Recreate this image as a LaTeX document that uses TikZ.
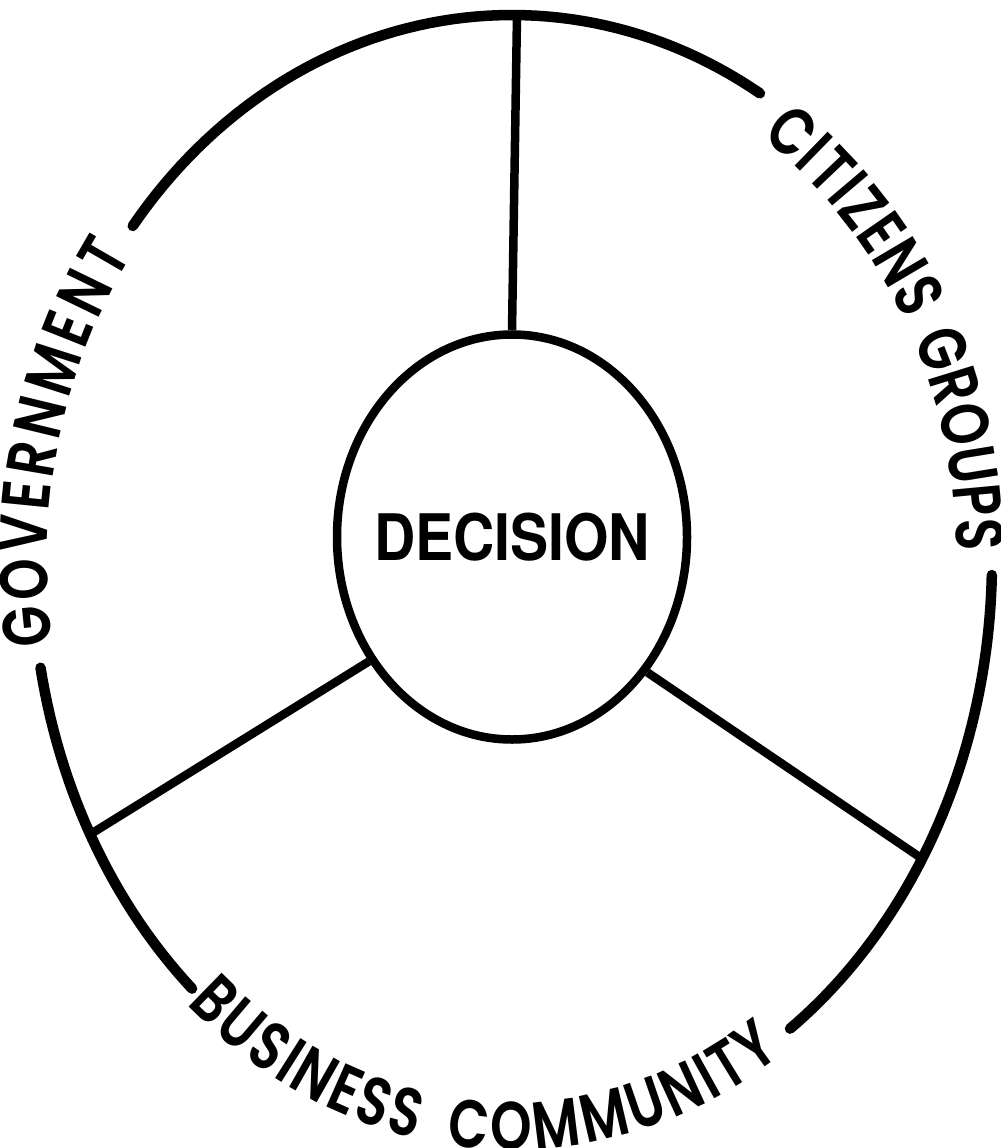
\documentclass[tikz,border=0pt]{standalone}
\usepackage{fontspec}
\newfontfamily\ringfont{Poppins SemiBold}[FakeStretch=0.78]
\newfontfamily\decfont{TeX Gyre Heros}[FakeStretch=0.89]
\usetikzlibrary{shapes.geometric,decorations.text}

\tikzset{
  ring/.style={line width=2.1mm, line cap=round},
  spoke/.style={line width=1.7mm},
  ringlabel/.style n args={2}{decorate, decoration={text along path, text align=fit to path, raise=#2,
    text={|\ringfont\fontsize{38.5}{38.5}\selectfont|#1}}},
  declare function={ringx(\t)=512+480*cos(\t); ringy(\t)=560-((sin(\t)>0)?545:575)*sin(\t);}
}

\begin{document}
\begin{tikzpicture}[x=0.2mm, y=-0.2mm]
\useasboundingbox (0,0) rectangle (1000,1148);

% centre
\node[draw, ellipse, line width=1.7mm, minimum width=70mm, minimum height=81mm, inner sep=0pt,
  label={[font=\decfont\bfseries\fontsize{36.5}{36.5}\selectfont]center:DECISION}] (dec) at (512,537) {};

% outer ring, broken where the labels sit
\draw[ring] plot[domain=58.9:142.2, samples=60] ({ringx(\x)}, {ringy(\x)});
\draw[ring] plot[domain=190.8:228.2, samples=30] ({ringx(\x)}, {ringy(\x)});
\draw[ring] plot[domain=305.4:358.5, samples=50] ({ringx(\x)}, {ringy(\x)});

% spokes
\coordinate (otop) at ({ringx(90)+5}, {ringy(90)});
\coordinate (oleft) at ({ringx(208.5)}, {ringy(208.5)});
\coordinate (oright) at ({ringx(328.7)}, {ringy(328.7)});
\draw[spoke] (otop) -- (dec.north);
\draw[spoke] (oleft) -- (dec.221);
\draw[spoke] (oright) -- (dec.315);

% labels
\path[ringlabel={GOVERNMENT}{-3mm}] plot[domain=0:1, samples=40] ({ringx(188.6-43.6*\x)}, {ringy(188.6-43.6*\x)});
\path[ringlabel={CITIZENS{\hspace{3.5mm}}GROUPS}{-7mm}] plot[domain=0:1, samples=50] ({ringx(55.5-54.5*\x)}, {ringy(55.5-54.5*\x)});
\path[ringlabel={BUSINESS{\hspace{5mm}}COMMUNITY}{-3mm}] plot[domain=0:1, samples=60] ({ringx(229+74*\x)}, {ringy(229+74*\x)});

\end{tikzpicture}
\end{document}
